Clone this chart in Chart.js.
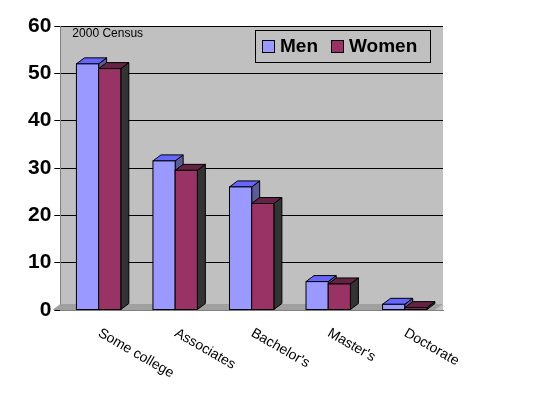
<!DOCTYPE html>
<html><head><script src="https://cdn.jsdelivr.net/npm/chart.js"></script>
<style>body{margin:0;background:#fff}#c{display:block}</style></head>
<body><canvas id="c" width="536" height="403"></canvas>
<script>
const categories=["Some college","Associates","Bachelor's","Master's","Doctorate"];
const men=[52,31.5,26,6,1.2];
const women=[51,29.5,22.5,5.5,0.5];
const yTicks=[0,10,20,30,40,50,60];
const DX=8,DY=-6;
function shade(c,f){const n=parseInt(c.slice(1),16);let r=(n>>16)&255,g=(n>>8)&255,b=n&255;return `rgb(${r*f|0},${g*f|0},${b*f|0})`;}
const plug={id:'p3d',
beforeDatasetsDraw(ch){const {ctx,chartArea:a}=ch;ctx.save();
 ctx.fillStyle='#a0a0a0';ctx.beginPath();ctx.moveTo(a.left-DX,a.bottom);ctx.lineTo(a.right-DX,a.bottom);ctx.lineTo(a.right,a.bottom+DY);ctx.lineTo(a.left,a.bottom+DY);ctx.closePath();ctx.fill();ctx.restore();},
afterDatasetsDraw(ch){const {ctx}=ch;ctx.save();
 for(let i=0;i<categories.length;i++){for(let d=0;d<2;d++){const el=ch.getDatasetMeta(d).data[i];const col=ch.data.datasets[d].backgroundColor;
  const x0=el.x-el.width/2,x1=el.x+el.width/2,yt=el.y,yb=el.base;
  ctx.strokeStyle='#000';ctx.lineWidth=1;
  ctx.fillStyle=d?'#333333':shade(col,0.6);
  ctx.beginPath();ctx.moveTo(x1,yb);ctx.lineTo(x1+DX,yb+DY);ctx.lineTo(x1+DX,yt+DY);ctx.lineTo(x1,yt);ctx.closePath();ctx.fill();ctx.stroke();
  ctx.fillStyle=d?'#662244':'#6666ff';
  ctx.beginPath();ctx.moveTo(x0,yt);ctx.lineTo(x0+DX,yt+DY);ctx.lineTo(x1+DX,yt+DY);ctx.lineTo(x1,yt);ctx.closePath();ctx.fill();ctx.stroke();
  ctx.fillStyle=col;ctx.fillRect(x0,yt,x1-x0,yb-yt);ctx.strokeRect(x0,yt,x1-x0,yb-yt);
 }}
 ctx.restore();},
afterDraw(ch){const {ctx,chartArea:a,scales}=ch;ctx.save();
 ctx.fillStyle='#000';ctx.font='12px Arial';ctx.textBaseline='top';ctx.fillText('2000 Census',a.left+12,a.top+2);
 ctx.fillStyle='#c0c0c0';ctx.fillRect(255,30,175,32);ctx.strokeStyle='#000';ctx.strokeRect(255.5,30.5,175,32);
 ctx.font='bold 19px Arial';ctx.textBaseline='middle';
 ctx.fillStyle='#9999ff';ctx.fillRect(262,40,12,12);ctx.strokeRect(262.5,40.5,12,12);
 ctx.fillStyle='#000';ctx.fillText('Men',280,47);
 ctx.fillStyle='#993366';ctx.fillRect(331,40,12,12);ctx.strokeRect(331.5,40.5,12,12);
 ctx.fillStyle='#000';ctx.fillText('Women',349,47);
 ctx.font='14px Arial';ctx.textBaseline='top';ctx.textAlign='left';
 categories.forEach((c,i)=>{const x=scales.x.getPixelForValue(i);ctx.save();ctx.translate(x+4,a.bottom+16);ctx.rotate(Math.PI/6);ctx.fillText(c,0,0);ctx.restore();});
 ctx.restore();}
};
const bg={id:'bg',beforeDraw(ch){const {ctx,chartArea:a}=ch;ctx.save();ctx.fillStyle='#c0c0c0';ctx.fillRect(a.left,a.top,a.right-a.left,a.bottom-a.top);ctx.restore();}};
new Chart(document.getElementById('c'),{type:'bar',
data:{labels:categories,datasets:[{label:'Men',data:men,backgroundColor:'#9999ff'},{label:'Women',data:women,backgroundColor:'#993366'}]},
options:{responsive:false,animation:false,layout:{padding:{top:26,right:93,bottom:85,left:25}},
 datasets:{bar:{categoryPercentage:0.58,barPercentage:1}},
 plugins:{legend:{display:false},tooltip:{enabled:false}},
 scales:{x:{ticks:{display:false},grid:{display:false},border:{color:'#808080'}},
  y:{min:0,max:60,afterBuildTicks(s){s.ticks=yTicks.map(v=>({value:v}));},ticks:{color:'#000',font:{family:'Arial',size:21,weight:'bold'}},grid:{color:'#000',tickLength:6},border:{color:'#808080'}}}},
plugins:[bg,plug]});
</script></body></html>
